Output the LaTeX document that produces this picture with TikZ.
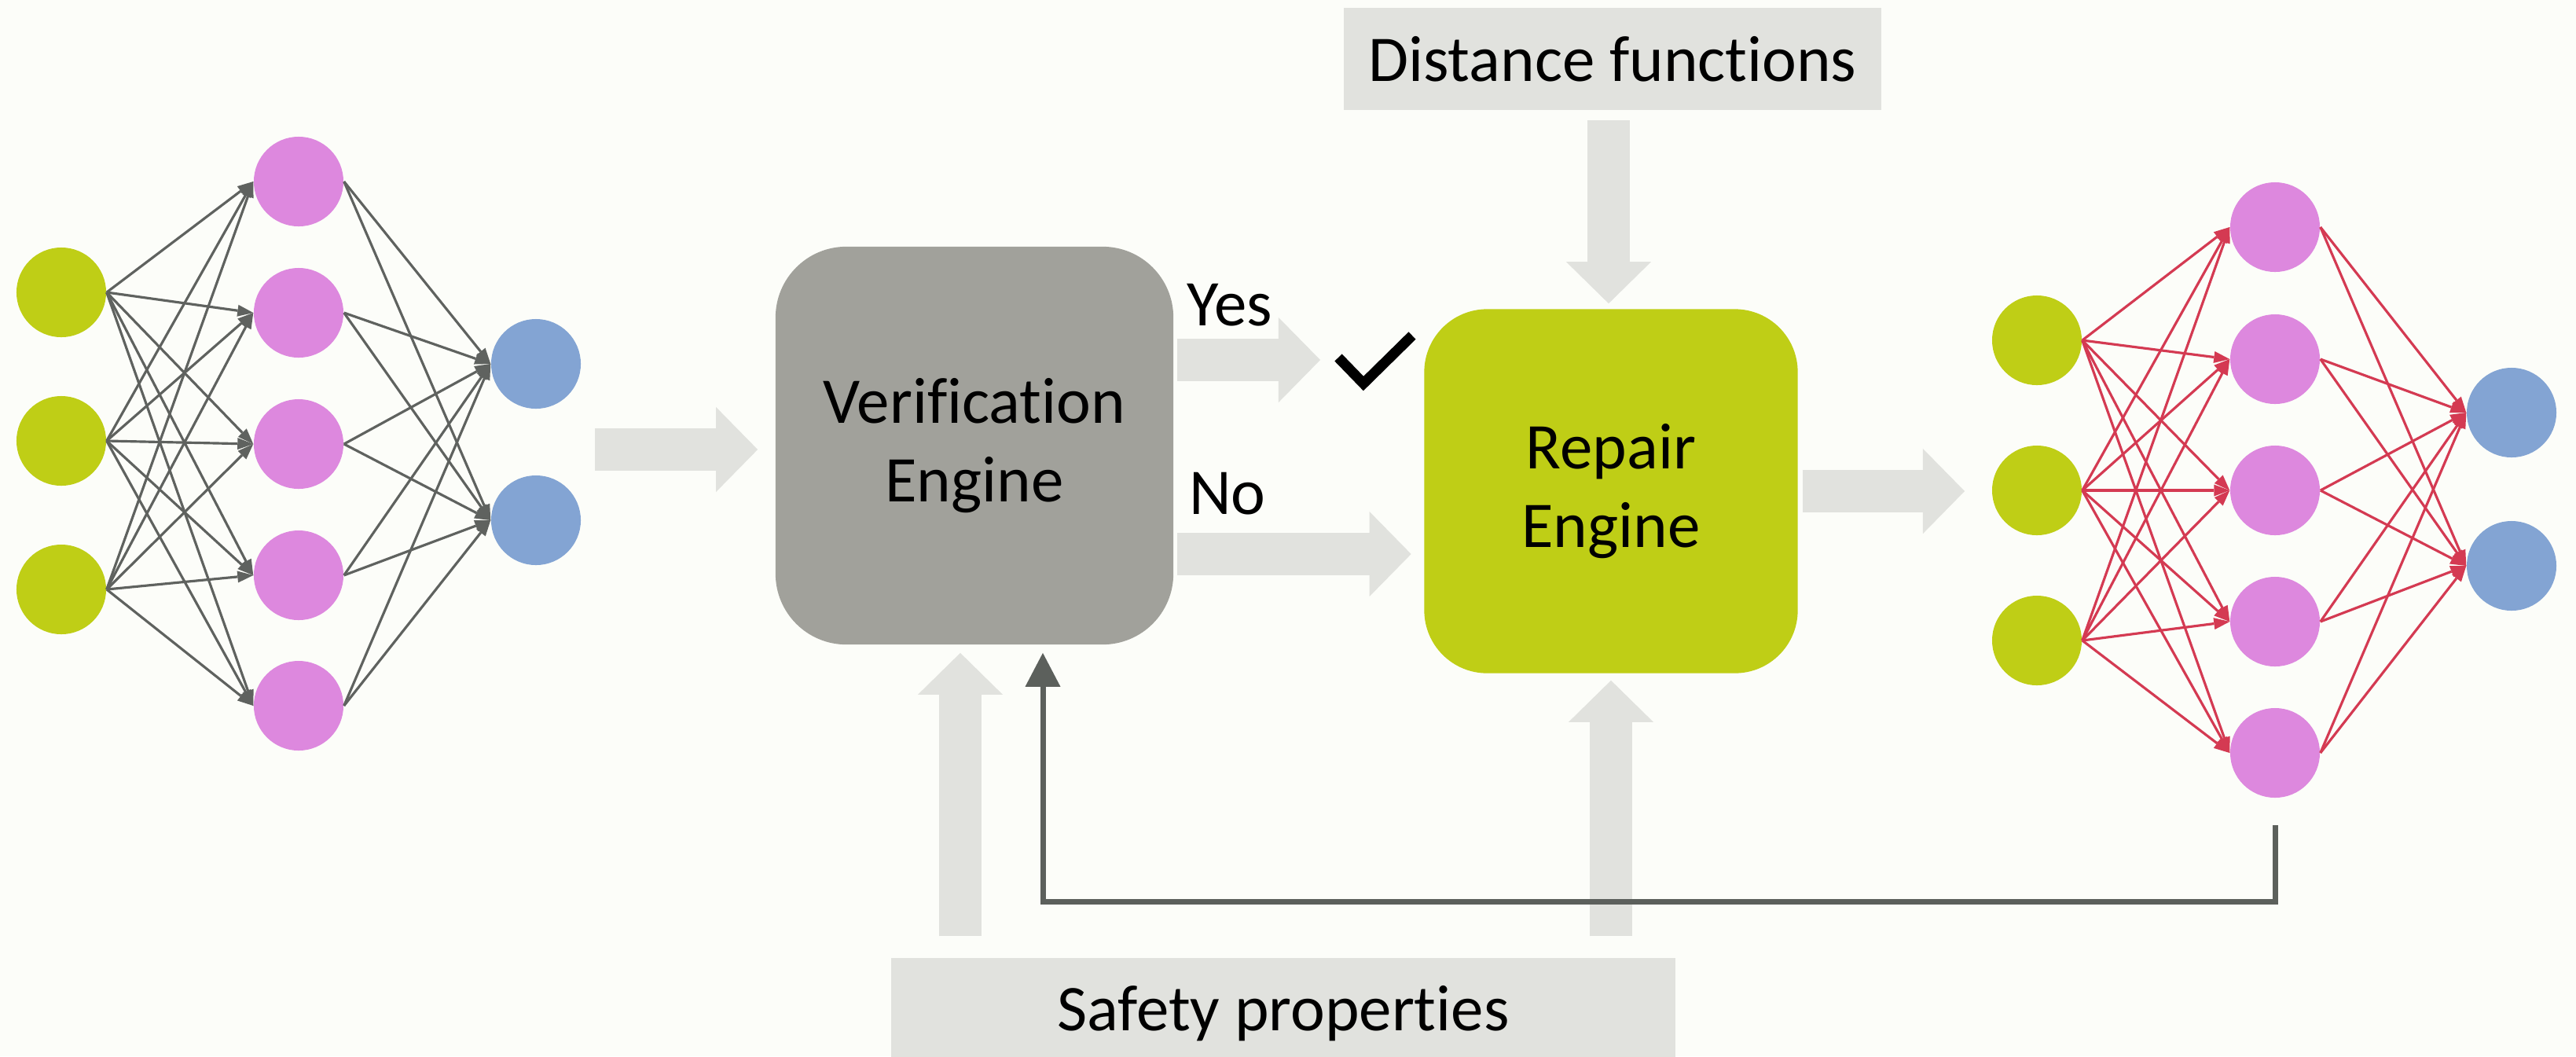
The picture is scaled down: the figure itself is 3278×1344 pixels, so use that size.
\documentclass[tikz,border=0pt]{standalone}
\usepackage{fontspec}
\setmainfont{Carlito}[Ligatures=NoCommon]
\usetikzlibrary{arrows.meta}
\definecolor{bg}{RGB}{252,253,249}
\definecolor{ngreen}{RGB}{191,206,22}
\definecolor{npink}{RGB}{221,136,222}
\definecolor{nblue}{RGB}{131,164,211}
\definecolor{vgray}{RGB}{161,161,155}
\definecolor{lgray}{RGB}{225,226,222}
\definecolor{egray}{RGB}{95,98,95}
\definecolor{ered}{RGB}{212,58,82}
\definecolor{fbgray}{RGB}{92,96,92}
\begin{document}
\begin{tikzpicture}[x=0.01cm,y=-0.01cm,
  neuron/.style={circle,inner sep=0pt,minimum size=1.14cm},
  gn/.style={neuron,fill=ngreen},
  pn/.style={neuron,fill=npink},
  bn/.style={neuron,fill=nblue},
  edge/.style={line width=0.9pt,-{Triangle[length=0.2cm,width=0.15cm,line width=0pt]}},
  txt/.style={font=\fontsize{23.6pt}{28.5pt}\selectfont},
  engine/.style={txt,rectangle,align=center,inner sep=0pt},
  greybox/.style={txt,fill=lgray,inner sep=0pt},
  lbl/.style={txt,inner sep=0pt},
  barrow/.style={draw=lgray,line width=0.54cm,-{Triangle[length=0.53cm,width=1.08cm,line width=0pt]}},
  fbline/.style={draw=fbgray,line width=0.07cm,-{Triangle[length=0.43cm,width=0.45cm,line width=0pt]}}
]
\clip (0,0) rectangle (3278,1344);
\fill[bg] (0,0) rectangle (3278,1344);

% left network
\foreach \i/\y in {1/372,2/561,3/750} \node[gn] (Lg\i) at (78,\y) {};
\foreach \i/\y in {1/231,2/398,3/565,4/732,5/898} \node[pn] (Lh\i) at (380,\y) {};
\foreach \i/\y in {1/463,2/662} \node[bn] (Lo\i) at (682,\y) {};
\foreach \i in {1,2,3} \foreach \j in {1,...,5} \draw[edge,egray] (Lg\i.east) -- (Lh\j.west);
\foreach \j in {1,...,5} \foreach \k in {1,2} \draw[edge,egray] (Lh\j.east) -- (Lo\k.west);

% right network
\foreach \i/\y in {1/433,2/624,3/815} \node[gn] (Rg\i) at (2592,\y) {};
\foreach \i/\y in {1/289,2/457,3/624,4/791,5/958} \node[pn] (Rh\i) at (2895,\y) {};
\foreach \i/\y in {1/525,2/720} \node[bn] (Ro\i) at (3196,\y) {};
\foreach \i in {1,2,3} \foreach \j in {1,...,5} \draw[edge,ered] (Rg\i.east) -- (Rh\j.west);
\foreach \j in {1,...,5} \foreach \k in {1,2} \draw[edge,ered] (Rh\j.east) -- (Ro\k.west);

% engines and boxes
\node[engine,fill=vgray,rounded corners=0.9cm,minimum width=5.06cm,minimum height=5.06cm] (ver) at (1240,567) {Verification\\Engine};
\node[engine,fill=ngreen,rounded corners=0.8cm,minimum width=4.75cm,minimum height=4.63cm] (rep) at (2050,625) {Repair\\Engine};
\node[greybox,minimum width=6.83cm,minimum height=1.30cm] (dist) at (2052,75) {Distance functions};
\node[greybox,minimum width=9.98cm,minimum height=1.42cm] (safe) at (1633,1290) {Safety properties};
\node[lbl,anchor=base] (yes) at (1565,414) {Yes};
\node[lbl,anchor=base] (no) at (1562,654) {No};

% check mark
\draw[line width=0.13cm] (1703,455) -- (1735,488) -- (1797,427);

% block arrows
\coordinate (inS) at (757,572);
\coordinate (yesS) at (1498,458);
\coordinate (yesE) at (1680,458);
\coordinate (noS) at (1498,705);
\coordinate (distS) at (2047,153);
\coordinate (sv) at (1222,1191);
\coordinate (sr) at (2050,1191);
\coordinate (outS) at (2294,625);
\coordinate (outE) at (2500,625);
\draw[barrow,shorten >=0.22cm] (inS) -- (inS -| ver.west);
\draw[barrow] (yesS) -- (yesE);
\draw[barrow,shorten >=0.16cm] (noS) -- (noS -| rep.west);
\draw[barrow,shorten >=0.065cm] (distS) -- (distS |- rep.north);
\draw[barrow,shorten >=0.1cm] (sv) -- (sv |- ver.south);
\draw[barrow,shorten >=0.085cm] (sr) -- (sr |- rep.south);
\draw[barrow] (outS) -- (outE);

% feedback loop
\coordinate (fbT) at (1327,1147);
\draw[fbline,shorten <=0.34cm,shorten >=0.1cm] (Rh5.south) |- (fbT) -- (fbT |- ver.south);
\end{tikzpicture}
\end{document}
